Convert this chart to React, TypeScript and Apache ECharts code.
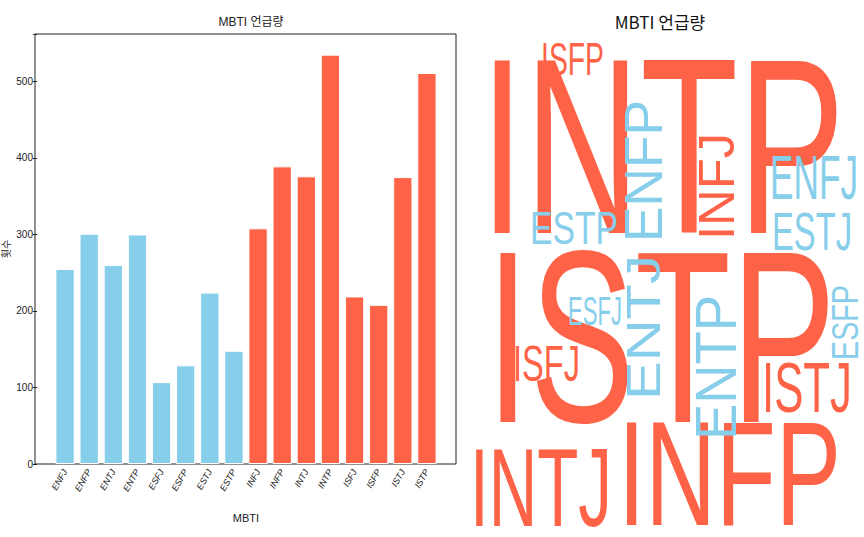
import { useEffect, useRef } from "react";
import * as echarts from "echarts";

const types = ["ENFJ", "ENFP", "ENTJ", "ENTP", "ESFJ", "ESFP", "ESTJ", "ESTP", "INFJ", "INFP", "INTJ", "INTP", "ISFJ", "ISFP", "ISTJ", "ISTP"];
const counts = [255, 301, 260, 300, 107, 129, 224, 148, 308, 389, 376, 535, 219, 208, 375, 511];
const yTicks = [0, 100, 200, 300, 400, 500];

const BLUE = "#87CEEB";
const RED = "#FF6347";
const FONT = "'Liberation Sans Narrow', 'Liberation Sans', 'Noto Sans CJK KR', sans-serif";
const CLOUD_FONT = "'Liberation Sans', 'Noto Sans', sans-serif";

// word cloud layout: word, box left, top, right, bottom, rotation (deg)
const cloud: [string, number, number, number, number, number][] = [
  ["INTP", 480, 57, 845, 236, 0],
  ["ISTP", 486, 250, 836, 425, 0],
  ["INFP", 618, 421, 841, 527, 0],
  ["INTJ", 470, 448, 612, 528, 0],
  ["ISFP", 541, 42, 604, 75, 0],
  ["ISTJ", 762, 362, 852, 412, 0],
  ["ISFJ", 513, 346, 580, 382, 0],
  ["INFJ", 699, 133, 735, 240, 90],
  ["ENFP", 625, 100, 663, 242, 90],
  ["ENFJ", 770, 155, 858, 200, 0],
  ["ESTP", 530, 212, 618, 245, 0],
  ["ESTJ", 772, 212, 852, 250, 0],
  ["ESFJ", 568, 296, 622, 325, 0],
  ["ENTJ", 625, 255, 660, 400, 90],
  ["ENTP", 696, 295, 737, 440, 90],
  ["ESFP", 832, 285, 858, 360, 90],
];

function measure(word: string, size: number) {
  const ctx = document.createElement("canvas").getContext("2d")!;
  ctx.font = `${size}px ${CLOUD_FONT}`;
  return ctx.measureText(word).width;
}

export default function App() {
  const ref = useRef<HTMLDivElement>(null);
  useEffect(() => {
    document.body.style.margin = "0";
    if (!ref.current) return;
    const chart = echarts.init(ref.current, null, { renderer: "svg" });

    const words = cloud.map(([w, l, t, r, b, rot]) => {
      const vertical = rot !== 0;
      const len = vertical ? b - t : r - l;
      const cap = vertical ? r - l : b - t;
      const size = cap / 0.716;
      const sx = len / measure(w, size);
      return {
        type: "text",
        x: (l + r) / 2,
        y: (t + b) / 2,
        rotation: (rot * Math.PI) / 180,
        scaleX: sx,
        style: {
          text: w,
          fontSize: size,
          fontFamily: CLOUD_FONT,
          fill: w.startsWith("I") ? RED : BLUE,
          align: "center",
          verticalAlign: "middle",
          y: 0,
        },
      };
    });

    chart.setOption({
      animation: false,
      title: [
        { text: "MBTI 언급량", left: 246, top: 11, textAlign: "center", textStyle: { fontSize: 12, fontWeight: "normal", fontFamily: FONT, color: "#222" } },
        { text: "MBTI 언급량", left: 655, top: 8, textAlign: "center", textStyle: { fontSize: 17, fontWeight: "normal", fontFamily: "'Noto Sans CJK KR', sans-serif", color: "#111" } },
      ],
      grid: { left: 51, right: 425, top: 34, bottom: 73 },
      xAxis: {
        type: "category",
        data: types,
        name: "MBTI",
        nameLocation: "middle",
        nameGap: 48,
        nameTextStyle: { fontSize: 11, fontFamily: FONT, color: "#222" },
        axisLine: { show: false },
        axisTick: { alignWithLabel: true, length: 4, lineStyle: { color: "#222" } },
        axisLabel: { rotate: 60, fontSize: 9, fontStyle: "italic", fontFamily: FONT, color: "#222", margin: 6, interval: 0 },
      },
      yAxis: {
        type: "value",
        min: 0,
        max: 562,
        interval: 100,
        offset: 16,
        name: "횟수",
        nameLocation: "middle",
        nameGap: 26,
        nameTextStyle: { fontSize: 10, fontFamily: FONT, color: "#222" },
        axisLine: { show: false },
        axisTick: { show: true, length: 4, lineStyle: { color: "#222" } },
        splitLine: { show: false },
        axisLabel: { fontSize: 10, fontFamily: FONT, color: "#222", margin: 4, customValues: yTicks },
      },
      series: [
        {
          type: "bar",
          barCategoryGap: "20%",
          data: counts.map((v, i) => ({
            value: v,
            itemStyle: { color: types[i].startsWith("I") ? RED : BLUE, borderColor: "#fff", borderWidth: 1 },
          })),
        },
      ],
      graphic: [
        { type: "rect", shape: { x: 35, y: 34, width: 421, height: 430 }, style: { fill: "none", stroke: "#222", lineWidth: 1 }, silent: true },
        ...words,
      ],
    });
    return () => chart.dispose();
  }, []);
  return <div ref={ref} style={{ width: 864, height: 537, background: "#fff" }} />;
}
